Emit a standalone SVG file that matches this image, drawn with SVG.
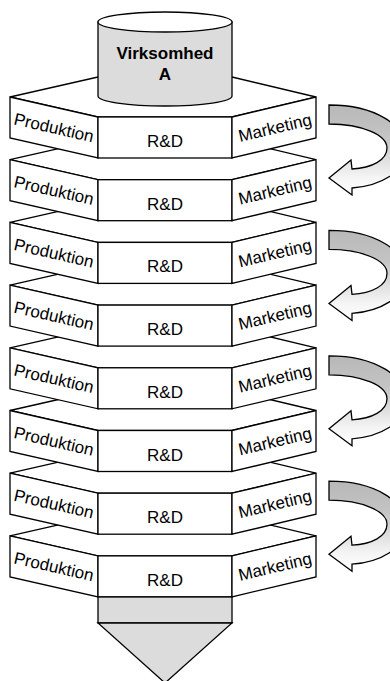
<svg xmlns="http://www.w3.org/2000/svg" xmlns:xlink="http://www.w3.org/1999/xlink" width="390" height="681" viewBox="0 0 390 681">
<style>
.f{fill:#fff;stroke:#000;stroke-width:1.3;stroke-linejoin:miter}
.g{fill:#dcdcdc;stroke:#000;stroke-width:1.3}
.t{font-family:"Liberation Sans",Arial,sans-serif;font-size:17px;fill:#000}
.m{text-anchor:middle}
.b{font-weight:bold}
.a{fill:url(#ag);stroke:#000;stroke-width:1.3;stroke-linejoin:miter}
</style>
<defs>
<linearGradient id="ag" x1="0" y1="0" x2="0" y2="1">
<stop offset="0" stop-color="#b8b8b8"/>
<stop offset="0.35" stop-color="#c4c4c4"/>
<stop offset="0.8" stop-color="#f4f4f4"/>
<stop offset="1" stop-color="#ffffff"/>
</linearGradient>
<path id="arr" class="a" d="M329,105 C375,105 406,125 406,150 C406,172 380,186 352,188 L352,195 L329,178 L351,160 L352,169 C372,168 387,160 387,148 C387,135 362,124 329,124 Z"/>
</defs>

<g id="slab8" transform="translate(0,438.9)">
<polygon class="f" points="10,97 98,77 232,77 316,97 232,117 98,117"/>
<polygon class="f" points="10,97 98,117 98,158 10,138"/>
<rect class="f" x="98" y="117" width="134" height="41"/>
<polygon class="f" points="232,117 316,97 316,138 232,158"/>
<text class="t m" transform="translate(54,127.5) rotate(12.8)" y="6">Produktion</text>
<text class="t m" x="165" y="147">R&amp;D</text>
<text class="t m" transform="translate(275,127.5) rotate(-13.4)" y="6">Marketing</text>
</g>
<g id="slab7" transform="translate(0,376.2)">
<polygon class="f" points="10,97 98,77 232,77 316,97 232,117 98,117"/>
<polygon class="f" points="10,97 98,117 98,158 10,138"/>
<rect class="f" x="98" y="117" width="134" height="41"/>
<polygon class="f" points="232,117 316,97 316,138 232,158"/>
<text class="t m" transform="translate(54,127.5) rotate(12.8)" y="6">Produktion</text>
<text class="t m" x="165" y="147">R&amp;D</text>
<text class="t m" transform="translate(275,127.5) rotate(-13.4)" y="6">Marketing</text>
</g>
<g id="slab6" transform="translate(0,313.5)">
<polygon class="f" points="10,97 98,77 232,77 316,97 232,117 98,117"/>
<polygon class="f" points="10,97 98,117 98,158 10,138"/>
<rect class="f" x="98" y="117" width="134" height="41"/>
<polygon class="f" points="232,117 316,97 316,138 232,158"/>
<text class="t m" transform="translate(54,127.5) rotate(12.8)" y="6">Produktion</text>
<text class="t m" x="165" y="147">R&amp;D</text>
<text class="t m" transform="translate(275,127.5) rotate(-13.4)" y="6">Marketing</text>
</g>
<g id="slab5" transform="translate(0,250.8)">
<polygon class="f" points="10,97 98,77 232,77 316,97 232,117 98,117"/>
<polygon class="f" points="10,97 98,117 98,158 10,138"/>
<rect class="f" x="98" y="117" width="134" height="41"/>
<polygon class="f" points="232,117 316,97 316,138 232,158"/>
<text class="t m" transform="translate(54,127.5) rotate(12.8)" y="6">Produktion</text>
<text class="t m" x="165" y="147">R&amp;D</text>
<text class="t m" transform="translate(275,127.5) rotate(-13.4)" y="6">Marketing</text>
</g>
<g id="slab4" transform="translate(0,188.1)">
<polygon class="f" points="10,97 98,77 232,77 316,97 232,117 98,117"/>
<polygon class="f" points="10,97 98,117 98,158 10,138"/>
<rect class="f" x="98" y="117" width="134" height="41"/>
<polygon class="f" points="232,117 316,97 316,138 232,158"/>
<text class="t m" transform="translate(54,127.5) rotate(12.8)" y="6">Produktion</text>
<text class="t m" x="165" y="147">R&amp;D</text>
<text class="t m" transform="translate(275,127.5) rotate(-13.4)" y="6">Marketing</text>
</g>
<g id="slab3" transform="translate(0,125.4)">
<polygon class="f" points="10,97 98,77 232,77 316,97 232,117 98,117"/>
<polygon class="f" points="10,97 98,117 98,158 10,138"/>
<rect class="f" x="98" y="117" width="134" height="41"/>
<polygon class="f" points="232,117 316,97 316,138 232,158"/>
<text class="t m" transform="translate(54,127.5) rotate(12.8)" y="6">Produktion</text>
<text class="t m" x="165" y="147">R&amp;D</text>
<text class="t m" transform="translate(275,127.5) rotate(-13.4)" y="6">Marketing</text>
</g>
<g id="slab2" transform="translate(0,62.7)">
<polygon class="f" points="10,97 98,77 232,77 316,97 232,117 98,117"/>
<polygon class="f" points="10,97 98,117 98,158 10,138"/>
<rect class="f" x="98" y="117" width="134" height="41"/>
<polygon class="f" points="232,117 316,97 316,138 232,158"/>
<text class="t m" transform="translate(54,127.5) rotate(12.8)" y="6">Produktion</text>
<text class="t m" x="165" y="147">R&amp;D</text>
<text class="t m" transform="translate(275,127.5) rotate(-13.4)" y="6">Marketing</text>
</g>
<g id="slab1">
<polygon class="f" points="10,97 98,77 232,77 316,97 232,117 98,117"/>
<polygon class="f" points="10,97 98,117 98,158 10,138"/>
<rect class="f" x="98" y="117" width="134" height="41"/>
<polygon class="f" points="232,117 316,97 316,138 232,158"/>
<text class="t m" transform="translate(54,127.5) rotate(12.8)" y="6">Produktion</text>
<text class="t m" x="165" y="147">R&amp;D</text>
<text class="t m" transform="translate(275,127.5) rotate(-13.4)" y="6">Marketing</text>
</g>

<g id="virksomhed">
<path class="g" d="M98,22 V96 A67,10 0 0 0 232,96 V22 Z"/>
<ellipse class="f" cx="165" cy="22" rx="67" ry="10"/>
<text class="t m b" x="165" y="59">Virksomhed</text>
<text class="t m b" x="165" y="80">A</text>
</g>

<g id="output">
<rect class="g" x="98" y="597" width="134" height="26"/>
<polygon class="g" points="98,623 232,623 165,683"/>
</g>

<g id="connectors">
<use xlink:href="#arr"/>
<use xlink:href="#arr" transform="translate(0,125.4)"/>
<use xlink:href="#arr" transform="translate(0,250.8)"/>
<use xlink:href="#arr" transform="translate(0,376.2)"/>
</g>
</svg>
